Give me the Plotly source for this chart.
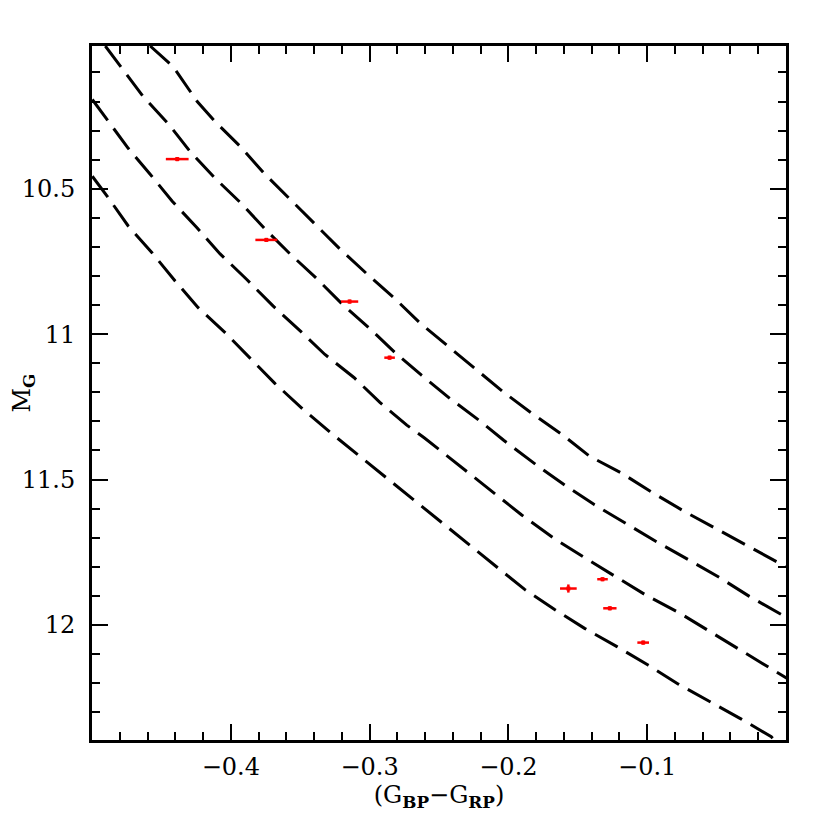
import plotly.graph_objects as go

# observed stars: colour, absolute G magnitude and their errors
star_color = [-0.4386, -0.3744, -0.3144, -0.2856, -0.1568, -0.1322, -0.1269, -0.1029]
star_mag = [10.398, 10.676, 10.888, 11.081, 11.875, 11.843, 11.943, 12.061]
star_color_err = [0.0082, 0.0079, 0.0062, 0.0038, 0.0060, 0.0038, 0.0048, 0.0042]
star_mag_err = [0.007, 0.007, 0.007, 0.007, 0.014, 0.007, 0.007, 0.007]

# cooling tracks (dashed)
track1_color = [-0.4581, -0.4415, -0.4242, -0.4113, -0.3933, -0.3760, -0.3573, -0.3394,
                -0.3214, -0.3019, -0.2825, -0.2638, -0.2444, -0.2242, -0.2034, -0.1832,
                -0.1617, -0.1415, -0.1185, -0.0969, -0.0739, -0.0516, -0.0286, -0.0055, 0.0017]
track1_mag = [10.009, 10.080, 10.200, 10.269, 10.354, 10.447, 10.536, 10.622,
              10.707, 10.793, 10.875, 10.961, 11.039, 11.118, 11.200, 11.272,
              11.344, 11.420, 11.478, 11.543, 11.608, 11.666, 11.728, 11.786, 11.803]

track2_color = [-0.4904, -0.4782, -0.4631, -0.4451, -0.4293, -0.4113, -0.3919, -0.3753,
                -0.3573, -0.3379, -0.3199, -0.3005, -0.2818, -0.2624, -0.2422, -0.2213,
                -0.2034, -0.1796, -0.1595, -0.1379, -0.1149, -0.0933, -0.0703, -0.0480,
                -0.0264, -0.0034, 0.0017]
track2_mag = [10.009, 10.087, 10.183, 10.276, 10.372, 10.464, 10.553, 10.639,
              10.724, 10.810, 10.896, 10.978, 11.063, 11.142, 11.221, 11.296,
              11.365, 11.451, 11.519, 11.587, 11.653, 11.714, 11.776, 11.837,
              11.902, 11.964, 11.978]

track3_color = [-0.4998, -0.4890, -0.4739, -0.4581, -0.4422, -0.4242, -0.4077, -0.3883,
                -0.3696, -0.3502, -0.3322, -0.3113, -0.2926, -0.2732, -0.2602, -0.1904,
                -0.1667, -0.1451, -0.1221, -0.1005, -0.0775, -0.0552, -0.0322, -0.0106, 0.0017]
track3_mag = [10.193, 10.262, 10.361, 10.450, 10.543, 10.635, 10.724, 10.813,
              10.903, 10.988, 11.070, 11.149, 11.235, 11.313, 11.358, 11.622,
              11.704, 11.769, 11.837, 11.899, 11.957, 12.022, 12.087, 12.152, 12.187]

track4_color = [-0.4998, -0.4890, -0.4739, -0.4566, -0.4401, -0.4235, -0.4041, -0.3861,
                -0.3681, -0.3487, -0.3286, -0.2034, -0.1883, -0.1667, -0.1451, -0.1221,
                -0.0991, -0.0775, -0.0552, -0.0322, -0.0106, -0.0084]
track4_mag = [10.457, 10.526, 10.628, 10.721, 10.817, 10.909, 10.995, 11.084,
              11.170, 11.255, 11.337, 11.820, 11.878, 11.947, 12.012, 12.074,
              12.139, 12.204, 12.262, 12.324, 12.385, 12.396]

x_ticks = [-0.4, -0.3, -0.2, -0.1]
x_ticktext = ["\u22120.4", "\u22120.3", "\u22120.2", "\u22120.1"]
y_ticks = [10.5, 11, 11.5, 12]
y_ticktext = ["10.5", "11", "11.5", "12"]

FONT = "DejaVu Serif"
FONT_SIZE = 24

fig = go.Figure()

for xs, ys in [(track1_color, track1_mag), (track2_color, track2_mag),
               (track3_color, track3_mag), (track4_color, track4_mag)]:
    fig.add_trace(go.Scatter(x=xs, y=ys, mode="lines",
                             line=dict(color="black", width=3, dash="26px,10px"),
                             showlegend=False, hoverinfo="skip"))

fig.add_trace(go.Scatter(
    x=star_color, y=star_mag, mode="markers",
    marker=dict(color="red", size=4, symbol="square"),
    error_x=dict(type="data", array=star_color_err, color="red", thickness=2.5, width=0),
    error_y=dict(type="data", array=star_mag_err, color="red", thickness=2.5, width=0),
    showlegend=False,
))

axis_common = dict(
    showline=True, linewidth=3, linecolor="black", mirror="allticks",
    ticks="inside", ticklen=16, tickwidth=2, tickcolor="black",
    showgrid=False, zeroline=False,
    tickfont=dict(family=FONT, size=FONT_SIZE, color="black"),
)

fig.update_xaxes(
    range=[-0.5, 0.0], tickmode="array", tickvals=x_ticks, ticktext=x_ticktext,
    minor=dict(ticks="inside", ticklen=8, tickwidth=2, tickcolor="black", dtick=0.02, tick0=0, showgrid=False),
    title=dict(text="(G<sub><b>BP</b></sub>\u2212G<sub><b>RP</b></sub>)",
               font=dict(family=FONT, size=FONT_SIZE, color="black"), standoff=1),
    ticklabelstandoff=3,
    **axis_common,
)
fig.update_yaxes(
    range=[12.396, 10.009], tickmode="array", tickvals=y_ticks, ticktext=y_ticktext,
    minor=dict(ticks="inside", ticklen=8, tickwidth=2, tickcolor="black", dtick=0.1, tick0=0, showgrid=False),
    title=dict(text="M<sub><b>G</b></sub>",
               font=dict(family=FONT, size=FONT_SIZE, color="black"), standoff=8),
    ticklabelstandoff=9,
    **axis_common,
)

# the page body adds an 8px offset, so the margins are shifted to compensate
fig.update_layout(
    width=830, height=830,
    margin=dict(l=84, r=52, t=38, b=98, autoexpand=False),
    plot_bgcolor="white", paper_bgcolor="white",
)

fig.write_html("out.html")
